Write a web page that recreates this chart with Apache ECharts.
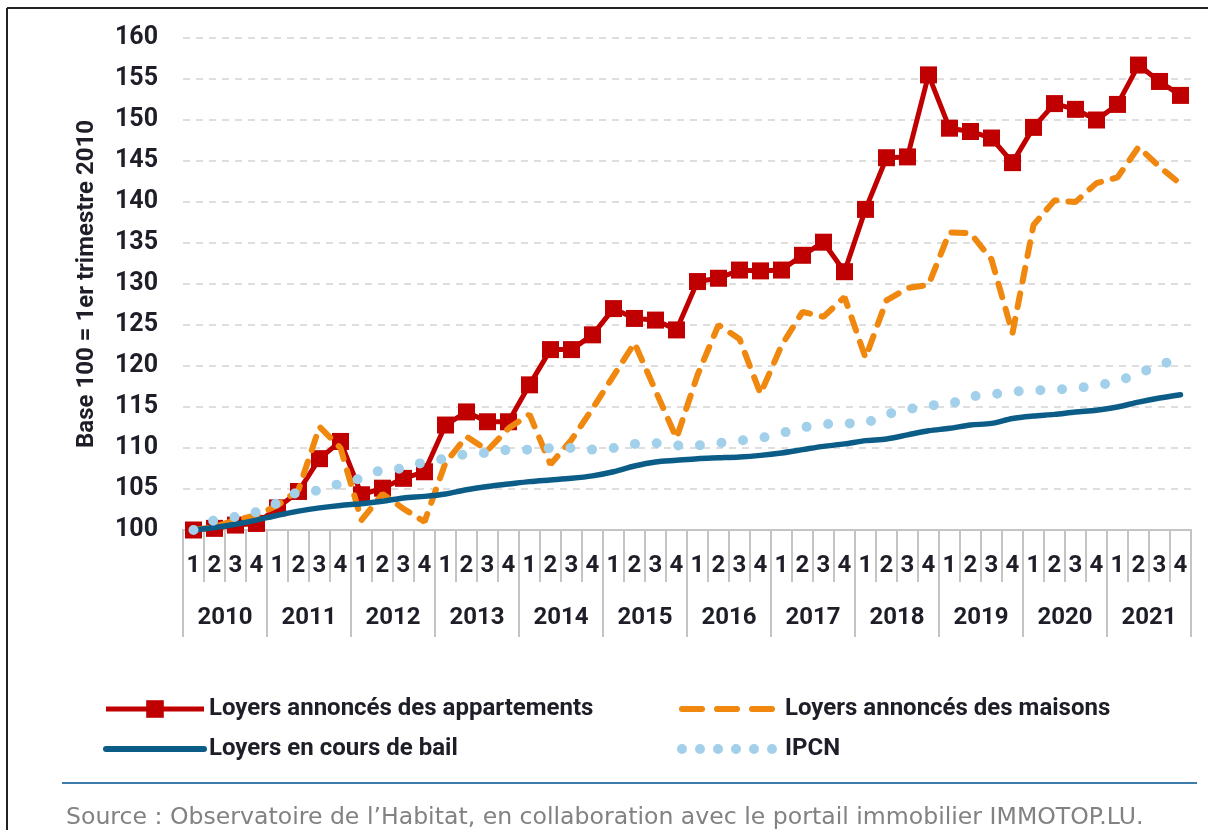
<!DOCTYPE html>
<html>
<head>
<meta charset="utf-8">
<script src="https://cdn.jsdelivr.net/npm/echarts@6/dist/echarts.min.js"></script>
<style>
  html, body { margin: 0; padding: 0; background: #fff; }
  #chart { width: 1208px; height: 830px; }
</style>
</head>
<body>
<div id="chart"></div>
<script>
  // axes
  const years = ['2010', '2011', '2012', '2013', '2014', '2015', '2016', '2017', '2018', '2019', '2020', '2021'];
  const quarters = ['1', '2', '3', '4'];
  const yTicks = { min: 100, max: 160, step: 5 };

  // series (base 100 = 1er trimestre 2010)
  const appartements = [
    100, 100.2, 100.6, 100.8, 102.7, 104.7, 108.7, 110.8, 104.3, 105.1, 106.3, 107.1,
    112.8, 114.4, 113.2, 113.2, 117.7, 122.0, 122.0, 123.8, 127.0, 125.8, 125.6, 124.4,
    130.3, 130.7, 131.7, 131.6, 131.7, 133.5, 135.1, 131.5, 139.1, 145.4, 145.5, 155.5,
    149.0, 148.6, 147.8, 144.8, 149.1, 152.0, 151.3, 150.0, 151.9, 156.7, 154.7, 153.0
  ];
  const maisons = [
    100, 100.4, 101.2, 101.8, 103.0, 104.9, 112.6, 110.0, 101.2, 104.4, 102.6, 101.0,
    108.2, 111.4, 109.7, 112.4, 114.1, 108.0, 111.0, 114.8, 118.8, 122.8, 117.0, 111.2,
    118.9, 125.0, 123.3, 116.6, 122.5, 126.6, 126.0, 128.4, 121.0, 128.0, 129.5, 129.9,
    136.3, 136.2, 133.0, 124.0, 137.2, 140.2, 140.0, 142.3, 143.0, 146.7, 144.3, 142.2
  ];
  const bail = [
    100, 100.3, 100.7, 101.2, 101.8, 102.3, 102.7, 103.0, 103.2, 103.5, 103.9, 104.1,
    104.4, 104.9, 105.3, 105.6, 105.9, 106.1, 106.3, 106.6, 107.1, 107.8, 108.3, 108.5,
    108.7, 108.8, 108.9, 109.1, 109.4, 109.8, 110.2, 110.5, 110.9, 111.1, 111.6, 112.1,
    112.4, 112.8, 113.0, 113.6, 113.9, 114.1, 114.4, 114.6, 115.0, 115.6, 116.1, 116.5
  ];
  const ipcn = [
    100, 101.2, 101.6, 102.2, 103.3, 104.7, 104.8, 105.7, 106.3, 107.4, 107.5, 108.3,
    108.7, 109.3, 109.4, 109.8, 109.8, 110.0, 110.0, 109.8, 110.0, 110.5, 110.6, 110.3,
    110.3, 110.6, 110.9, 111.2, 111.8, 112.5, 112.9, 113.0, 113.0, 114.1, 114.7, 115.2,
    115.3, 116.3, 116.5, 116.9, 117.0, 117.1, 117.3, 117.6, 118.1, 119.1, 120.1, 121.0
  ];

  const periods = years.flatMap(y => quarters.map(q => y + ' T' + q));

  const font = 'Roboto';
  const ink = '#1e1e28';
  const tickGrey = '#c4c4c4';
  const red = '#c00000', orange = '#f0870f', blue = '#0b5d88', light = '#a2d0ea';

  let myChart = echarts.init(document.getElementById('chart'));
  myChart.setOption({
    backgroundColor: '#fff',
    animation: false,
    textStyle: { fontFamily: font },
    title: {
      text: 'Source : Observatoire de l’Habitat, en collaboration avec le portail immobilier IMMOTOP.LU.',
      left: 61,
      top: 801,
      textStyle: { fontFamily: 'DejaVu Sans', fontSize: 23.6, fontWeight: 'normal', color: '#828282' }
    },
    graphic: [
      { type: 'line', shape: { x1: 7, y1: 8, x2: 1208, y2: 8 }, style: { stroke: '#222', lineWidth: 2 } },
      { type: 'line', shape: { x1: 7, y1: 8, x2: 7, y2: 830 }, style: { stroke: '#222', lineWidth: 2 } },
      { type: 'line', shape: { x1: 62, y1: 783, x2: 1197, y2: 783 }, style: { stroke: '#3d7dab', lineWidth: 2 } }
    ],
    legend: [
      {
        orient: 'vertical',
        left: 98,
        top: 692,
        itemWidth: 98,
        itemHeight: 22,
        itemGap: 16,
        data: [
          { name: 'Loyers annoncés des appartements', lineStyle: { width: 5 } },
          { name: 'Loyers en cours de bail', lineStyle: { width: 6, cap: 'round' }, itemStyle: { opacity: 0 } }
        ],
        textStyle: { fontFamily: font, fontSize: 24, fontWeight: 'bold', color: ink }
      },
      {
        orient: 'vertical',
        left: 672,
        top: 692,
        itemWidth: 98,
        itemHeight: 22,
        itemGap: 16,
        data: [
          { name: 'Loyers annoncés des maisons', lineStyle: { width: 6, type: [20, 15], cap: 'round' }, itemStyle: { opacity: 0 } },
          { name: 'IPCN', lineStyle: { width: 10, type: [0, 18], cap: 'round' }, itemStyle: { opacity: 0 } }
        ],
        textStyle: { fontFamily: font, fontSize: 24, fontWeight: 'bold', color: ink }
      }
    ],
    grid: { left: 183, right: 17, top: 38, bottom: 300 },
    xAxis: [
      {
        type: 'category',
        data: periods,
        boundaryGap: true,
        axisLine: { show: true, lineStyle: { color: tickGrey, width: 2 } },
        axisTick: { show: true, interval: 0, length: 52, lineStyle: { color: tickGrey, width: 2 } },
        axisLabel: {
          interval: 0, margin: 24, fontSize: 24, fontWeight: 'bold', color: ink,
          formatter: v => v.split('T')[1]
        }
      },
      {
        type: 'category',
        data: years,
        position: 'bottom',
        boundaryGap: true,
        axisLine: { show: true, lineStyle: { color: tickGrey, width: 2 } },
        axisTick: { show: true, interval: 0, length: 107, lineStyle: { color: tickGrey, width: 2 } },
        axisLabel: { interval: 0, margin: 76, fontSize: 24, fontWeight: 'bold', color: ink }
      }
    ],
    yAxis: {
      type: 'value',
      min: yTicks.min,
      max: yTicks.max,
      interval: yTicks.step,
      name: 'Base 100 = 1er trimestre 2010',
      nameLocation: 'middle',
      nameRotate: 90,
      nameGap: 84,
      nameTextStyle: { fontFamily: font, fontSize: 24, fontWeight: 'bold', color: ink },
      axisLine: { show: false },
      axisTick: { show: false },
      axisLabel: { margin: 25, fontSize: 25, fontWeight: 'bold', color: ink },
      splitLine: { lineStyle: { color: '#d3d3d3', width: 1.5, type: [7, 6] } }
    },
    series: [
      {
        name: 'Loyers annoncés des appartements',
        type: 'line',
        data: appartements,
        symbol: 'rect',
        symbolSize: 17,
        itemStyle: { color: red },
        lineStyle: { color: red, width: 5 },
        z: 2
      },
      {
        name: 'Loyers annoncés des maisons',
        type: 'line',
        data: maisons,
        showSymbol: false,
        symbol: 'none',
        itemStyle: { color: orange },
        lineStyle: { color: orange, width: 6, type: [14, 12], cap: 'round' },
        z: 3
      },
      {
        name: 'Loyers en cours de bail',
        type: 'line',
        data: bail,
        showSymbol: false,
        symbol: 'none',
        smooth: 0.3,
        itemStyle: { color: blue },
        lineStyle: { color: blue, width: 5.5, cap: 'round' },
        z: 4
      },
      {
        name: 'IPCN',
        type: 'line',
        data: ipcn,
        showSymbol: false,
        symbol: 'none',
        itemStyle: { color: light },
        lineStyle: { color: light, width: 10, type: [0, 21.7], cap: 'round' },
        z: 5
      }
    ]
  });
</script>
</body>
</html>
